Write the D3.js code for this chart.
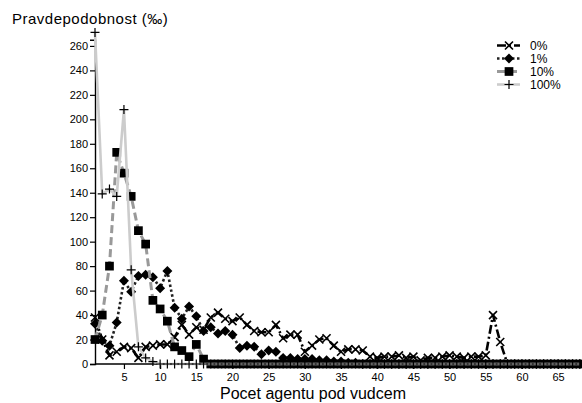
<!DOCTYPE html>
<html lang="en">
<head>
    <meta charset="utf-8">
    <title>Pravdepodobnost</title>
    <style>
        body { margin: 0; background: #fff; }
        text { font-family: "Liberation Sans", Arial, sans-serif; fill: #000; }
    </style>
</head>
<body>
    <svg id="chart" width="582" height="403"></svg>
    <script src="https://cdn.jsdelivr.net/npm/d3@7"></script>
    <script>
        // values, x = 1 .. 68
        const zeros = n => new Array(n).fill(0);

        const s0 = [38, 20, 7, 10, 14, 13, 5, 14, 15, 16, 16, 22, 32, 24, 30, 28, 38, 42, 37, 35,
                    38, 32, 27, 26, 26, 32, 21, 24, 24, 10, 15, 20, 21, 15, 10, 12, 12, 11, 6, 5,
                    6, 6, 7, 5, 6, 3, 5, 5, 6, 7, 6, 5, 6, 6, 7, 40, 18].concat(zeros(11));
        const s1 = [33, 19, 15, 34, 68, 59, 72, 73, 71, 62, 76, 46, 37, 47, 39, 27, 30, 25, 27, 24,
                    13, 15, 14, 8, 11, 10, 5, 5, 4, 4, 4, 3, 3, 2, 2, 1, 1].concat(zeros(31));
        const s10 = [20, 40, 80, 173, 156, 137, 109, 98, 52, 45, 35, 14, 11, 6, 16, 4].concat(zeros(52));
        const s100 = [271, 139, 143, 137, 208, 77, 14, 5, 2].concat(zeros(59));

        const seriesNames = ["0%", "1%", "10%", "100%"];
        const yTicks = d3.range(0, 261, 20);
        const xTicks = d3.range(5, 66, 5);

        const svg = d3.select("#chart");
        const x = d3.scaleLinear().domain([1, 68.3]).range([95, 582]);
        const y = d3.scaleLinear().domain([0, 265]).range([364, 39.8]);

        const styles = [
            { line: "#000", width: 2.6, dash: "9,3,2,3", marker: "x" },
            { line: "#222", width: 2.6, dash: "2.5,2.5", marker: "diamond" },
            { line: "#999", width: 3, dash: "8,4", marker: "square" },
            { line: "#ccc", width: 2.6, dash: null, marker: "plus" }
        ];
        const allSeries = [s0, s1, s10, s100];

        // axes
        const yAxis = svg.append("g")
            .attr("transform", "translate(95,0)")
            .call(d3.axisLeft(y).tickValues(yTicks).tickSize(5).tickPadding(2));
        const xAxis = svg.append("g")
            .attr("transform", "translate(0,364)")
            .call(d3.axisBottom(x).tickValues(xTicks).tickSize(5).tickPadding(4));
        [xAxis, yAxis].forEach(a => {
            a.select(".domain").attr("stroke", "#000").attr("stroke-width", 1.4);
            a.selectAll(".tick line").attr("stroke", "#000").attr("stroke-width", 1.2);
            a.selectAll(".tick text").style("font-size", "11px").attr("fill", "#000");
        });
        xAxis.select(".domain").attr("d", "M95,0H582");

        const markerPath = {
            x: "M-4,-4L4,4M-4,4L4,-4",
            plus: "M-4.5,0H4.5M0,-4.5V4.5"
        };

        function drawMarker(g, kind) {
            if (kind === "square") {
                g.append("path").attr("d", d3.symbol(d3.symbolSquare, 76)()).attr("fill", "#000");
            } else if (kind === "diamond") {
                g.append("path").attr("d", d3.symbol(d3.symbolSquare, 50)())
                    .attr("transform", "rotate(45)").attr("fill", "#000");
            } else if (kind === "x") {
                g.append("path").attr("d", markerPath.x).attr("stroke", "#000")
                    .attr("stroke-width", 1.6).attr("fill", "none");
            } else {
                g.append("path").attr("d", markerPath.plus).attr("stroke", "#000")
                    .attr("stroke-width", 1.2).attr("fill", "none");
            }
        }

        const line = d3.line().x((d, i) => x(i + 1)).y(d => y(d));

        allSeries.forEach((vals, k) => {
            const st = styles[k];
            const g = svg.append("g");
            g.append("path")
                .attr("d", line(vals))
                .attr("fill", "none")
                .attr("stroke", st.line)
                .attr("stroke-width", st.width)
                .attr("stroke-dasharray", st.dash)
                .attr("stroke-linejoin", "round");
            vals.forEach((v, i) => {
                const m = g.append("g").attr("transform", `translate(${x(i + 1)},${y(v)})`);
                drawMarker(m, st.marker);
            });
        });

        // legend
        const legend = svg.append("g").attr("transform", "translate(497,45.5)");
        seriesNames.forEach((name, k) => {
            const st = styles[k];
            const row = legend.append("g").attr("transform", `translate(0,${k * 13})`);
            row.append("line")
                .attr("x1", 0).attr("x2", 23).attr("y1", 0).attr("y2", 0)
                .attr("stroke", st.line)
                .attr("stroke-width", st.width)
                .attr("stroke-dasharray", st.dash);
            drawMarker(row.append("g").attr("transform", "translate(12,0)"), st.marker);
            row.append("text")
                .attr("x", 33).attr("y", 4.5)
                .style("font-size", "12px")
                .text(name);
        });

        // titles
        svg.append("text")
            .attr("x", 12).attr("y", 24)
            .style("font-size", "15px")
            .style("letter-spacing", "0.5px")
            .text("Pravdepodobnost (‰)");
        svg.append("text")
            .attr("x", 313).attr("y", 399)
            .attr("text-anchor", "middle")
            .style("font-size", "16px")
            .text("Pocet agentu pod vudcem");
    </script>
</body>
</html>
